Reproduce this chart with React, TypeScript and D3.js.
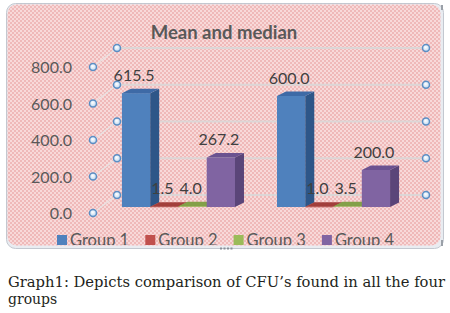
import React from "react";
import * as d3 from "d3";

const categories = ["Mean", "Median"];
const groups = ["Group 1", "Group 2", "Group 3", "Group 4"];
const meanValues = [615.5, 1.5, 4.0, 267.2];
const medianValues = [600.0, 1.0, 3.5, 200.0];
const seriesByCategory = [meanValues, medianValues];
const yTicks = [0, 200, 400, 600, 800];
const title = "Mean and median";
const captionLines = ["Graph1: Depicts comparison of CFU\u2019s found in all the four", "groups"];

const frontColors = ["#4f81bd", "#c0504d", "#9bbb59", "#8064a2"];
const sideColors = ["#2e5688", "#8c3331", "#6f8a3c", "#5a4579"];
const topColors = ["#3e6aa6", "#a23e3b", "#83a048", "#6b5290"];

const W = 450;
const H = 313;
const DX = 9;
const DY = 4.5;
const FONT = "Lato, 'Open Sans', sans-serif";

export default function App() {
  const xCat = d3.scaleBand<string>().domain(categories).range([101, 411]).paddingInner(0.271).paddingOuter(0.135);
  const xGroup = d3.scaleBand<string>().domain(groups).range([0, xCat.bandwidth()]).padding(0);
  const yBar = d3.scaleLinear().domain([0, 800]).range([207, 59]);
  const yBack = d3.scaleLinear().domain([0, 800]).range([195, 48]);
  const yFront = d3.scaleLinear().domain([0, 800]).range([213, 67]);
  const backX0 = 117;
  const backX1 = 426;
  const frontX = 93;

  const bars: any[] = [];
  categories.forEach((c, ci) => {
    groups.forEach((g, gi) => {
      const v = seriesByCategory[ci][gi];
      const x0 = (xCat(c) as number) + (xGroup(g) as number);
      const w = xGroup.bandwidth();
      const yT = yBar(v);
      const yB = yBar(0);
      bars.push({ c, g, gi, v, x0, w, yT, yB });
    });
  });

  const pts = (a: number[][]) => a.map((p) => p.join(",")).join(" ");

  return (
    <svg width={W} height={H} viewBox={`0 0 ${W} ${H}`} style={{ position: "absolute", left: 0, top: 0 }}>
      <defs>
        <pattern id="chk" width="4" height="4" patternUnits="userSpaceOnUse">
          <rect width="4" height="4" fill="#f8d9d9" />
          <rect x="0" y="0" width="2" height="2" fill="#efb9b9" />
          <rect x="2" y="2" width="2" height="2" fill="#efb9b9" />
        </pattern>
        <radialGradient id="hnd" cx="45%" cy="40%" r="60%">
          <stop offset="0%" stopColor="#ffffff" />
          <stop offset="100%" stopColor="#bcd6ee" />
        </radialGradient>
        <clipPath id="areaClip">
          <rect x={7} y={4} width={434} height={241} rx={9} />
        </clipPath>
      </defs>
      <rect x={0} y={0} width={W} height={H} fill="#ffffff" />
      {/* outer selection frame */}
      <rect x={6.5} y={3.5} width={437} height={245} rx={9} fill="#e9ecf1" stroke="#c3c8d0" strokeWidth={1} />
      <rect x={7.5} y={4.5} width={433} height={241} rx={9} fill="url(#chk)" />
      {[0, 1, 2, 3].map((i) => (
        <rect key={i} x={220 + i * 3.5} y={247.5} width={2} height={2} fill="#8a8f98" />
      ))}
      <rect x={441} y={5} width={2} height={5} fill="#9aa0a8" />
      <rect x={441} y={240} width={2} height={6} fill="#9aa0a8" />

      {/* title */}
      <text x={224} y={39} textAnchor="middle" fontFamily={FONT} fontWeight="bold" fontSize={18.5} fill="#595959">
        {title}
      </text>

      {/* gridlines: side wall diagonals and back wall */}
      {yTicks.map((t) => (
        <g key={t}>
          <line x1={frontX} y1={yFront(t)} x2={backX0} y2={yBack(t)} stroke="#e8e2e2" strokeWidth={1.2} />
          <line x1={backX0} y1={yBack(t)} x2={backX1} y2={yBack(t)} stroke="#dcd6d6" strokeWidth={2} />
        </g>
      ))}

      {/* bars */}
      {bars.map((b, i) => {
        const { x0, w, yT, yB, gi } = b;
        return (
          <g key={i}>
            <rect x={x0} y={yT} width={w} height={Math.max(yB - yT, 0.5)} fill={frontColors[gi]} />
            <polygon
              points={pts([
                [x0 + w, yT],
                [x0 + w + DX, yT - DY],
                [x0 + w + DX, yB - DY],
                [x0 + w, yB],
              ])}
              fill={sideColors[gi]}
            />
            <polygon
              points={pts([
                [x0, yT],
                [x0 + DX, yT - DY],
                [x0 + w + DX, yT - DY],
                [x0 + w, yT],
              ])}
              fill={topColors[gi]}
            />
          </g>
        );
      })}

      {/* value labels */}
      {bars.map((b, i) => (
        <text
          key={i}
          x={b.x0 + b.w / 2 - 2}
          y={b.yT - 12.5}
          textAnchor="middle"
          fontFamily={FONT}
          fontSize={16}
          fill="#404040"
        >
          {b.v.toFixed(1)}
        </text>
      ))}

      {/* y axis labels */}
      {yTicks.map((t) => (
        <text key={t} x={72} y={yFront(t) + 6} textAnchor="end" fontFamily={FONT} fontSize={16} fill="#595959">
          {t.toFixed(1)}
        </text>
      ))}

      {/* selection handles */}
      {yTicks.map((t) => (
        <g key={t}>
          <circle cx={frontX} cy={yFront(t)} r={3.5} fill="url(#hnd)" stroke="#5b8ec4" strokeWidth={1.5} />
          <circle cx={backX0} cy={yBack(t)} r={3.5} fill="url(#hnd)" stroke="#5b8ec4" strokeWidth={1.5} />
          <circle cx={backX1} cy={yBack(t)} r={3.5} fill="url(#hnd)" stroke="#5b8ec4" strokeWidth={1.5} />
        </g>
      ))}

      {/* legend */}
      <g clipPath="url(#areaClip)">
        {groups.map((g, i) => {
          const lx = 57 + i * 88.3;
          return (
            <g key={g}>
              <rect x={lx} y={235} width={10} height={10} fill={frontColors[i]} />
              <text x={lx + 13} y={245.5} fontFamily={FONT} fontSize={16.5} fill="#595959">
                {g}
              </text>
            </g>
          );
        })}
      </g>

      {/* caption */}
      <text x={8} y={287} fontFamily="'DejaVu Serif', serif" fontSize={14} fill="#231f20" textLength={437} lengthAdjust="spacingAndGlyphs">
        {captionLines[0]}
      </text>
      <text x={8} y={304} fontFamily="'DejaVu Serif', serif" fontSize={14} fill="#231f20">
        {captionLines[1]}
      </text>
    </svg>
  );
}
